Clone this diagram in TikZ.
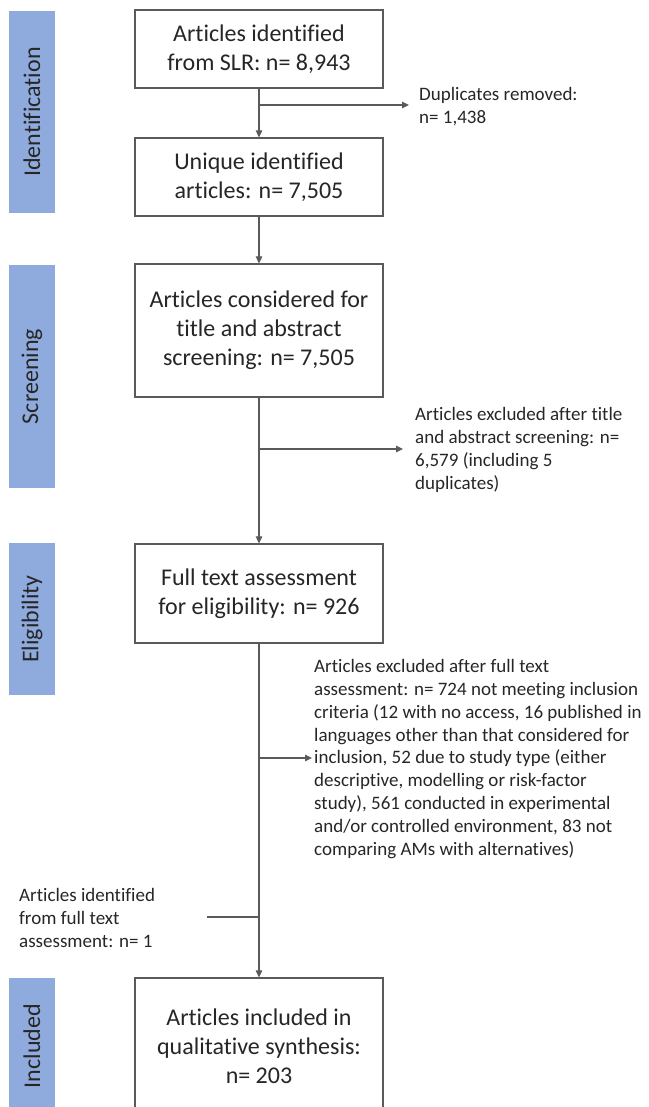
\documentclass[tikz,border=0pt]{standalone}
\usepackage{fontspec}
\setmainfont{Carlito}[Ligatures=NoCommon]
\usetikzlibrary{arrows.meta}
\definecolor{barblue}{RGB}{143,170,220}
\definecolor{txt}{RGB}{38,38,38}
\definecolor{ln}{RGB}{90,90,90}
\begin{document}
\begin{tikzpicture}[x=1pt,y=-1pt,
  box/.style={draw=ln, line width=1.2pt, fill=white, text=txt, align=center,
    minimum width=248pt, inner sep=0pt, font=\fontsize{24}{29}\selectfont},
  bar/.style={fill=barblue, text=txt, rotate=90, inner sep=0pt,
    minimum height=46pt, font=\fontsize{24}{29}\selectfont},
  side/.style={text=txt, align=left, inner sep=0pt, anchor=west,
    font=\fontsize{19}{22.8}\selectfont},
  conn/.style={draw=ln, line width=1.1pt},
  arr/.style={conn, -{Triangle[length=7pt,width=6.5pt]}}]
\useasboundingbox (0,0) rectangle (648,1107);
\clip (0,0) rectangle (648,1107);
% phase bars
\node[bar, minimum width=202pt] (bid) at (32,112) {Identification};
\node[bar, minimum width=223pt] (bsc) at (32,376.5) {Screening};
\node[bar, minimum width=152pt] (bel) at (32,619) {Eligibility};
\node[bar, minimum width=136pt] (bin) at (32,1046) {Included};
% main boxes
\node[box, minimum height=78pt] (b1) at (259,49) {Articles identified\\from SLR: n= 8,943};
\node[box, minimum height=78pt] (b2) at (259,177) {Unique identified\\articles: n= 7,505};
\node[box, minimum height=133pt] (b3) at (259,330.5) {Articles considered for\\title and abstract\\screening: n= 7,505};
\node[box, minimum height=99pt] (b4) at (259,593.5) {Full text assessment\\for eligibility: n= 926};
\node[box, minimum height=136pt] (b5) at (259,1046) {Articles included in\\qualitative synthesis:\\n= 203};
% side texts
\node[side] (t1) at (419,107) {Duplicates removed:\\n= 1,438};
\node[side] (t2) at (415,450) {Articles excluded after title\\and abstract screening: n=\\6,579 (including 5\\duplicates)};
\node[side] (t3) at (314,759) {Articles excluded after full text\\assessment: n= 724 not meeting inclusion\\criteria (12 with no access, 16 published in\\languages other than that considered for\\inclusion, 52 due to study type (either\\descriptive, modelling or risk-factor\\study), 561 conducted in experimental\\and/or controlled environment, 83 not\\comparing AMs with alternatives)};
\node[side] (t4) at (19,918) {Articles identified\\from full text\\assessment: n= 1};
% junction coordinates
\coordinate (j1) at (259,105);
\coordinate (j2) at (259,449);
\coordinate (j3) at (259,758);
\coordinate (j4) at (259,917);
\coordinate (l4) at (207,917);
% connectors
\draw[arr] (b1.south) -- (b2.north);
\draw[arr] (j1) -- ([xshift=-10pt]t1.west |- j1);
\draw[arr] (b2.south) -- (b3.north);
\draw[arr] (b3.south) -- (b4.north);
\draw[arr] (j2) -- ([xshift=-12pt]t2.west |- j2);
\draw[arr] (b4.south) -- (b5.north);
\draw[arr] (j3) -- ([xshift=-2pt]t3.west |- j3);
\draw[conn] (l4) -- (j4);
\end{tikzpicture}
\end{document}
